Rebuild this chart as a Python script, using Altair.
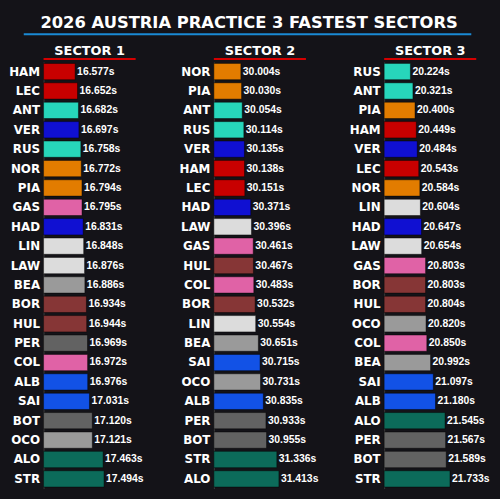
import altair as alt
import pandas as pd

s1_drivers = ["HAM","LEC","ANT","VER","RUS","NOR","PIA","GAS","HAD","LIN","LAW",
              "BEA","BOR","HUL","PER","COL","ALB","SAI","BOT","OCO","ALO","STR"]
s1_times = [16.577,16.652,16.682,16.697,16.758,16.772,16.794,16.795,16.831,16.848,16.876,
            16.886,16.934,16.944,16.969,16.972,16.976,17.031,17.120,17.121,17.463,17.494]

s2_drivers = ["NOR","PIA","ANT","RUS","VER","HAM","LEC","HAD","LAW","GAS","HUL",
              "COL","BOR","LIN","BEA","SAI","OCO","ALB","PER","BOT","STR","ALO"]
s2_times = [30.004,30.030,30.054,30.114,30.135,30.138,30.151,30.371,30.396,30.461,30.467,
            30.483,30.532,30.554,30.651,30.715,30.731,30.835,30.933,30.955,31.336,31.413]

s3_drivers = ["RUS","ANT","PIA","HAM","VER","LEC","NOR","LIN","HAD","LAW","GAS",
              "BOR","HUL","OCO","COL","BEA","SAI","ALB","ALO","PER","BOT","STR"]
s3_times = [20.224,20.321,20.400,20.449,20.484,20.543,20.584,20.604,20.647,20.654,20.803,
            20.803,20.804,20.820,20.850,20.992,21.097,21.180,21.545,21.567,21.589,21.733]

sector_titles = ["SECTOR 1", "SECTOR 2", "SECTOR 3"]

team_colors = {
    "HAM": "#c80000", "LEC": "#c80000",
    "ANT": "#27d6bb", "RUS": "#27d6bb",
    "VER": "#1010d2", "HAD": "#1010d2",
    "NOR": "#e27c00", "PIA": "#e27c00",
    "GAS": "#e062a6", "COL": "#e062a6",
    "LIN": "#dcdcdc", "LAW": "#dcdcdc",
    "BEA": "#9a9a9a", "OCO": "#9a9a9a",
    "BOR": "#863636", "HUL": "#863636",
    "PER": "#626262", "BOT": "#626262",
    "ALB": "#1252e6", "SAI": "#1252e6",
    "ALO": "#0c6b5a", "STR": "#0c6b5a",
}

BG = "#141318"
W = 93
H = 431


def panel(title, drivers, times, first=False):
    df = pd.DataFrame({"driver": drivers, "time": times})
    df["label"] = [f"{t:.3f}s" for t in times]
    df["color"] = [team_colors[d] for d in drivers]
    lo, hi = min(times) - 1, max(times) + 1
    y = alt.Y("driver:N", sort=drivers,
              scale=alt.Scale(paddingInner=0.16, paddingOuter=0.08),
              axis=alt.Axis(title=None, ticks=False, domain=True, domainColor="#3a3a3a",
                            labelFont="DejaVu Sans", labelFontWeight="bold",
                            labelFontSize=12, labelColor="white", labelPadding=4))
    x = alt.X("time:Q", scale=alt.Scale(domain=[lo, hi], zero=False, nice=False),
              axis=None, stack=None)
    base = alt.Chart(df)
    bars = base.mark_bar(stroke="black", strokeOpacity=0.45, strokeWidth=1).encode(
        y=y, x=x, x2=alt.value(0), color=alt.Color("color:N", scale=None))
    text = base.mark_text(align="left", baseline="middle", dx=2, font="Liberation Sans",
                          fontWeight="bold", fontSize=10.5, color="white").encode(
        y=y, x=x, text="label:N")
    tdf = pd.DataFrame({"t": [title]})
    ttl = alt.Chart(tdf).mark_text(font="DejaVu Sans", fontWeight="bold", fontSize=13,
                                   color="white", align="center",
                                   baseline="alphabetic").encode(
        x=alt.value(W / 2), y=alt.value(-7), text="t:N")
    red = alt.Chart(tdf).mark_rule(color="#d40000", strokeWidth=2).encode(
        x=alt.value(0), x2=alt.value(W), y=alt.value(-3))
    layers = [bars, text, ttl, red]
    if first:
        blue = alt.Chart(tdf).mark_rule(color="#1a8ad4", strokeWidth=2).encode(
            x=alt.value(-20), x2=alt.value(432), y=alt.value(-28))
        layers.append(blue)
    return alt.layer(*layers).properties(width=W, height=H)


chart = alt.hconcat(
    panel(sector_titles[0], s1_drivers, s1_times, first=True),
    panel(sector_titles[1], s2_drivers, s2_times),
    panel(sector_titles[2], s3_drivers, s3_times),
    spacing=79, bounds="flush",
).properties(
    title=alt.TitleParams("2026 AUSTRIA PRACTICE 3 FASTEST SECTORS", font="DejaVu Sans",
                          fontWeight="bold", fontSize=16.5, color="white", anchor="middle",
                          offset=2),
    background=BG,
    padding={"left": 8, "top": 12, "right": 10, "bottom": 8},
).configure_view(stroke=None)

chart.save("out.html", embed_options={"renderer": "svg", "actions": False})
